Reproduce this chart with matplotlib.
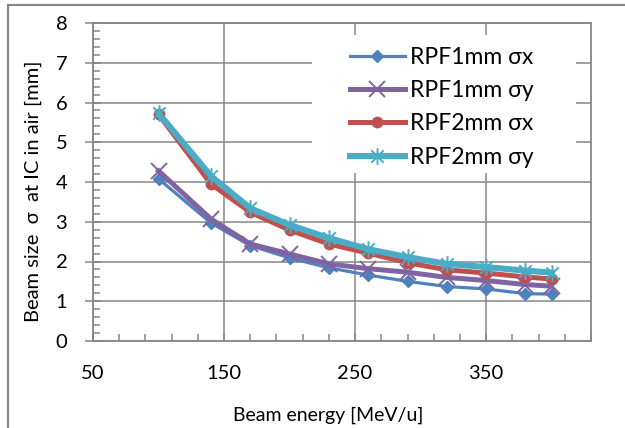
import numpy as np
import matplotlib
matplotlib.use("Agg")
import matplotlib.pyplot as plt
from matplotlib.path import Path
from matplotlib.lines import Line2D
from matplotlib.patches import Rectangle

# beam energies [MeV/u]
energy = [100, 140, 170, 200, 230, 260, 290, 320, 350, 380, 400]

# beam size sigma at IC in air [mm]
rpf1_sx = [4.08, 2.97, 2.40, 2.09, 1.84, 1.66, 1.50, 1.37, 1.31, 1.19, 1.18]
rpf1_sy = [4.28, 3.07, 2.44, 2.19, 1.94, 1.82, 1.73, 1.60, 1.52, 1.42, 1.38]
rpf2_sx = [5.70, 3.95, 3.24, 2.79, 2.44, 2.21, 1.97, 1.79, 1.71, 1.61, 1.56]
rpf2_sy = [5.73, 4.15, 3.34, 2.92, 2.59, 2.31, 2.11, 1.94, 1.86, 1.77, 1.72]

labels = ['RPF1mm σx', 'RPF1mm σy', 'RPF2mm σx', 'RPF2mm σy']

GRAY = '#868686'

# excel style asterisk: vertical bar plus two diagonals
star = Path([(0, -1), (0, 1), (-0.75, -0.75), (0.75, 0.75), (-0.75, 0.75), (0.75, -0.75)],
            [Path.MOVETO, Path.LINETO, Path.MOVETO, Path.LINETO, Path.MOVETO, Path.LINETO])


def main():
    plt.rcParams['font.family'] = ['Lato', 'DejaVu Sans']
    fig = plt.figure(figsize=(6.25, 4.28), dpi=100)
    ax = fig.add_axes([93 / 625, 1 - 341 / 428, 498 / 625, 318 / 428])

    # outer chart frame (only top and left edges visible)
    fig.add_artist(Line2D([8 / 625, 8 / 625], [0, 1 - 5 / 428], transform=fig.transFigure,
                          color=GRAY, lw=1.5))
    fig.add_artist(Line2D([8 / 625, 1], [1 - 5 / 428, 1 - 5 / 428], transform=fig.transFigure,
                          color=GRAY, lw=1.5))

    ax.plot(energy, rpf1_sx, color='#4F81BD', lw=2.3, marker='D', ms=6.5,
            mec='#4F81BD', mfc='#4F81BD', label=labels[0], zorder=3)
    ax.plot(energy, rpf1_sy, color='#8064A2', lw=3.6, marker='x', ms=11, mew=1.4,
            mec='#8064A2', label=labels[1], zorder=4)
    ax.plot(energy, rpf2_sx, color='#C0504D', lw=3.6, marker='o', ms=7.5,
            mec='#C0504D', mfc='#C0504D', label=labels[2], zorder=5)
    ax.plot(energy, rpf2_sy, color='#4BACC6', lw=4.4, marker=star, ms=12, mew=1.4,
            mec='#4BACC6', label=labels[3], zorder=6)

    ax.set_xlim(50, 430)
    ax.set_ylim(0, 8)
    ax.set_xticks(np.arange(50, 351, 100))
    ax.set_xticks(np.arange(50, 431, 20), minor=True)
    ax.set_yticks(np.arange(0, 9, 1))
    ax.set_yticks(np.arange(0, 8.01, 0.2), minor=True)

    ax.grid(visible=True, which='major', color=GRAY, lw=1.1)
    ax.set_axisbelow(True)
    for s in ax.spines.values():
        s.set_color(GRAY)
        s.set_linewidth(1.3)

    ax.tick_params(axis='y', which='major', direction='inout', length=11, width=1.1,
                   color=GRAY, labelsize=14.5, pad=13)
    ax.tick_params(axis='y', which='minor', direction='in', length=5, width=1.1, color=GRAY)
    ax.tick_params(axis='x', which='both', direction='in', length=5, width=1.1,
                   color=GRAY, labelsize=14.5, pad=17)

    ax.set_xlabel('Beam energy [MeV/u]', fontsize=14)
    ax.xaxis.set_label_coords(0.472, -0.205)
    ax.set_ylabel('Beam size  σ  at IC in air [mm]', fontsize=14.5, va='center')
    ax.yaxis.set_label_coords(-0.12, 0.47)

    # white legend background hiding the gridlines
    ax.add_patch(Rectangle(((312 - 93) / 498, (341 - 173) / 318), 264 / 498, 138 / 318,
                           transform=ax.transAxes, facecolor='white', edgecolor='none',
                           zorder=1))
    ax.legend(loc='upper left', bbox_to_anchor=(0.516, 0.926), frameon=False,
              fontsize=16.5, borderpad=0, borderaxespad=0, handlelength=2.4,
              handletextpad=0.22, labelspacing=0.54)

    fig.savefig('out.png', dpi=100)


if __name__ == '__main__':
    main()
